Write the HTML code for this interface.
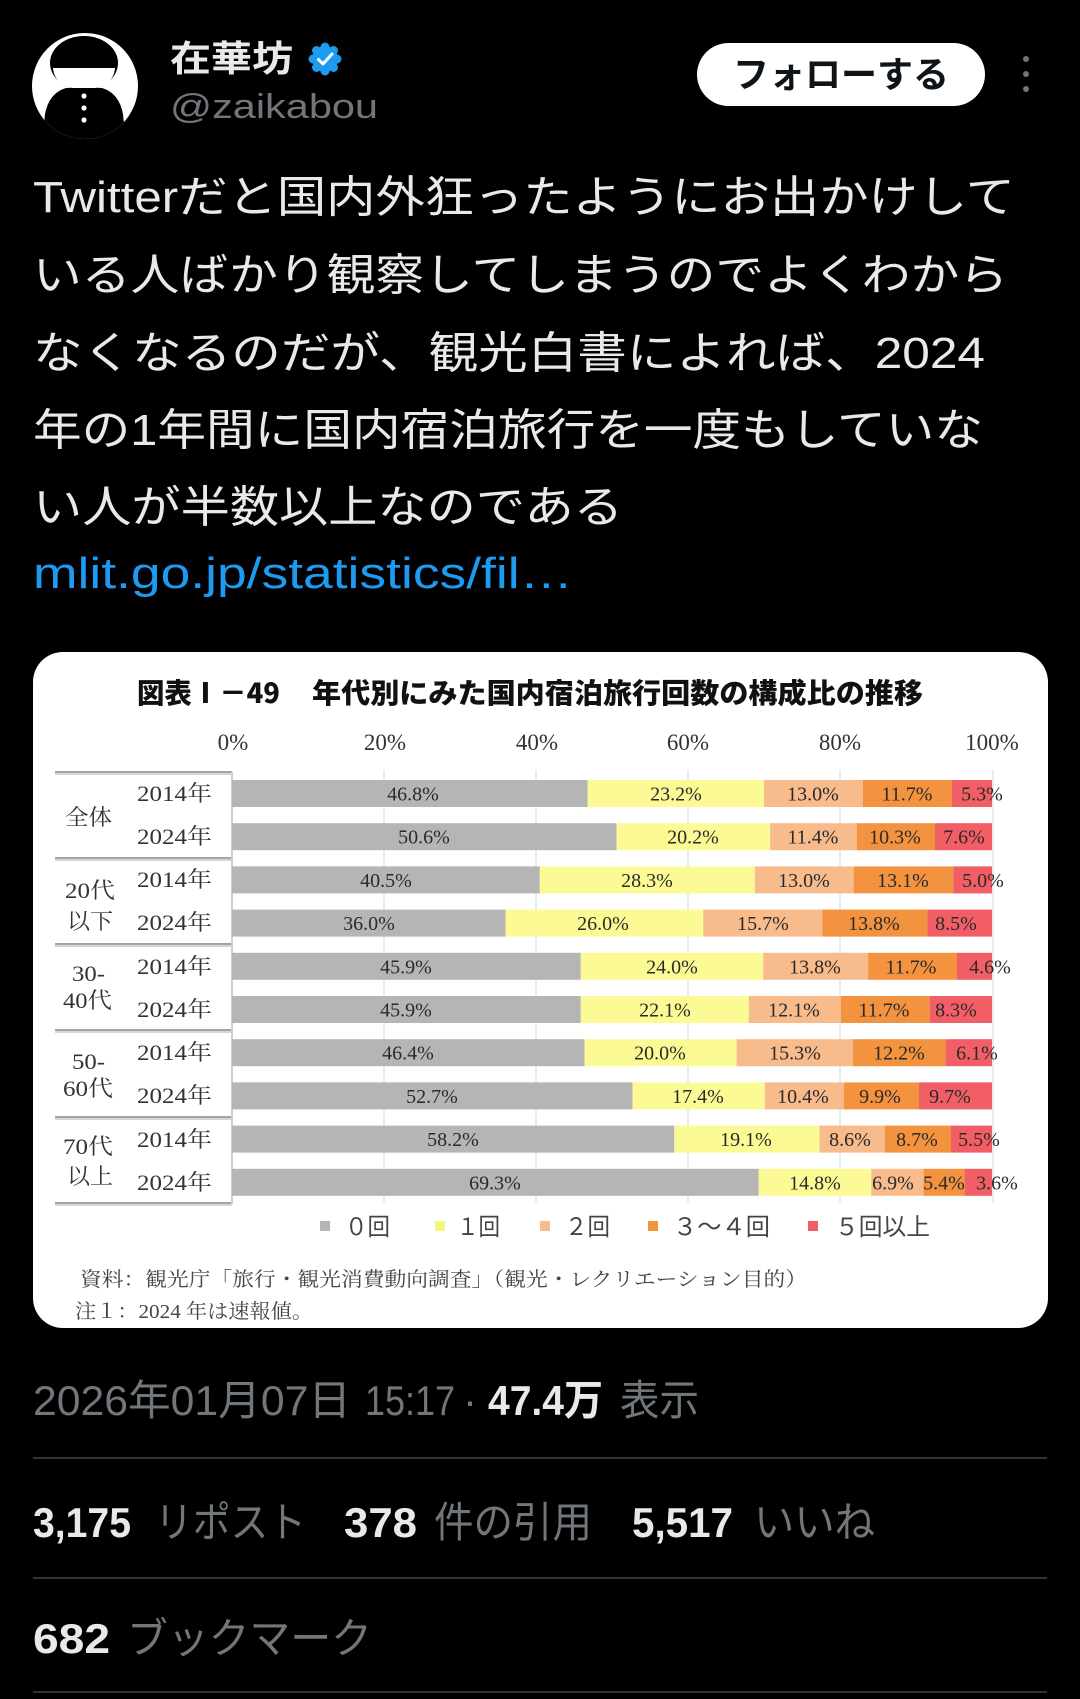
<!DOCTYPE html>
<html>
<head>
<meta charset="utf-8">
<style>
  html,body{margin:0;padding:0;background:#000;}
  svg{display:block;}
  .sans{font-family:"Liberation Sans","Noto Sans CJK JP",sans-serif;}
  .jp{font-family:"Noto Sans CJK JP","Liberation Sans",sans-serif;}
  .serif{font-family:"Liberation Serif","Noto Serif CJK SC",serif;}
</style>
</head>
<body>
<svg width="1080" height="1699" viewBox="0 0 1080 1699" xmlns="http://www.w3.org/2000/svg">
  <rect x="0" y="0" width="1080" height="1699" fill="#000"/>

  <!-- Avatar -->
  <defs>
    <clipPath id="av"><circle cx="85" cy="86" r="53"/></clipPath>
  </defs>
  <circle cx="85" cy="86" r="53" fill="#fff"/>
  <g clip-path="url(#av)">
    <ellipse cx="84" cy="63" rx="34" ry="27" fill="#000"/>
    <path d="M53,68 H115 Q113,89 84,89 Q55,89 53,68 Z" fill="#fff"/>
    <path d="M42,145 L45,114 Q49,93 66,88 H102 Q119,93 123,114 L126,145 Z" fill="#000"/>
    <circle cx="84" cy="96" r="2.6" fill="#fff"/>
    <circle cx="84" cy="108" r="2.6" fill="#fff"/>
    <circle cx="84" cy="120" r="2.6" fill="#fff"/>
  </g>

  <!-- Name -->
  <text class="sans" x="170" y="71" font-size="36" font-weight="700" fill="#e7e9ea" textLength="123" lengthAdjust="spacingAndGlyphs">在華坊</text>
  <!-- Badge -->
  <g fill="#1d9bf0">
    <circle cx="325" cy="59" r="13"/>
    <circle cx="337" cy="59" r="4.5"/><circle cx="313" cy="59" r="4.5"/>
    <circle cx="325" cy="47" r="4.5"/><circle cx="325" cy="71" r="4.5"/>
    <circle cx="333.5" cy="50.5" r="4.5"/><circle cx="316.5" cy="67.5" r="4.5"/>
    <circle cx="333.5" cy="67.5" r="4.5"/><circle cx="316.5" cy="50.5" r="4.5"/>
  </g>
  <path d="M318.5,59.5 L323,64 L332,54" fill="none" stroke="#fff" stroke-width="3" stroke-linecap="round" stroke-linejoin="round"/>
  <!-- Handle -->
  <text class="sans" x="170" y="118" font-size="34" fill="#71767b" textLength="208" lengthAdjust="spacingAndGlyphs">@zaikabou</text>

  <!-- Follow button -->
  <rect x="697" y="43" width="288" height="63" rx="31.5" fill="#fff"/>
  <text class="jp" x="733" y="87" font-size="36" font-weight="700" fill="#0f1419" textLength="216" lengthAdjust="spacingAndGlyphs">フォローする</text>
  <!-- More dots -->
  <circle cx="1026" cy="59" r="3" fill="#71767b"/>
  <circle cx="1026" cy="74" r="3" fill="#71767b"/>
  <circle cx="1026" cy="89" r="3" fill="#71767b"/>

  <!-- Tweet body -->
  <g class="sans" font-size="44" fill="#e7e9ea">
    <text x="33" y="212" textLength="982" lengthAdjust="spacingAndGlyphs">Twitterだと国内外狂ったようにお出かけして</text>
    <text x="33" y="290" textLength="975" lengthAdjust="spacingAndGlyphs">いる人ばかり観察してしまうのでよくわから</text>
    <text x="33" y="368" textLength="952" lengthAdjust="spacingAndGlyphs">なくなるのだが、観光白書によれば、2024</text>
    <text x="33" y="445" textLength="950" lengthAdjust="spacingAndGlyphs">年の1年間に国内宿泊旅行を一度もしていな</text>
    <text x="33" y="522" textLength="590" lengthAdjust="spacingAndGlyphs">い人が半数以上なのである</text>
    <text x="33" y="588" fill="#1d9bf0" textLength="540" lengthAdjust="spacingAndGlyphs">mlit.go.jp/statistics/fil…</text>
  </g>

  <!-- Chart card -->
  <rect x="33" y="652" width="1015" height="676" rx="30" fill="#fff"/>

  <!-- Title -->
  <g class="jp" font-size="28" font-weight="900" fill="#111">
    <text x="137" y="703" textLength="143" lengthAdjust="spacingAndGlyphs">図表Ⅰ－49</text>
    <text x="312" y="703" textLength="611" lengthAdjust="spacingAndGlyphs">年代別にみた国内宿泊旅行回数の構成比の推移</text>
  </g>

  <!-- Axis labels -->
  <g class="serif" font-size="23" fill="#333" text-anchor="middle">
    <text x="233" y="750">0%</text>
    <text x="385" y="750">20%</text>
    <text x="537" y="750">40%</text>
    <text x="688" y="750">60%</text>
    <text x="840" y="750">80%</text>
    <text x="992" y="750">100%</text>
  </g>

  <!-- Gridlines -->
  <g stroke="#e6edf2" stroke-width="2">
    <line x1="384" y1="770" x2="384" y2="1203"/>
    <line x1="536" y1="770" x2="536" y2="1203"/>
    <line x1="688" y1="770" x2="688" y2="1203"/>
    <line x1="840" y1="770" x2="840" y2="1203"/>
    <line x1="993" y1="770" x2="993" y2="1203"/>
  </g>

  <!-- Table lines -->
  <g stroke="#d6d6d6" stroke-width="2">
    <line x1="55" y1="774" x2="232" y2="774"/>
    <line x1="55" y1="860" x2="232" y2="860"/>
    <line x1="55" y1="946" x2="232" y2="946"/>
    <line x1="55" y1="1032" x2="232" y2="1032"/>
    <line x1="55" y1="1119" x2="232" y2="1119"/>
    <line x1="55" y1="1205" x2="232" y2="1205"/>
  </g>
  <g stroke="#a4a4a4" stroke-width="2">
    <line x1="55" y1="772" x2="232" y2="772"/>
    <line x1="55" y1="858" x2="232" y2="858"/>
    <line x1="55" y1="944" x2="232" y2="944"/>
    <line x1="55" y1="1030" x2="232" y2="1030"/>
    <line x1="55" y1="1117" x2="232" y2="1117"/>
    <line x1="55" y1="1203" x2="232" y2="1203"/>
  </g>
  <line x1="232" y1="772" x2="232" y2="1204" stroke="#cfcfcf" stroke-width="2"/>

  <!-- Group labels -->
  <g class="serif" font-size="22" fill="#333">
    <text x="65" y="825" textLength="47" lengthAdjust="spacingAndGlyphs">全体</text>
    <text x="65" y="898" textLength="50" lengthAdjust="spacingAndGlyphs">20代</text>
    <text x="67" y="929" textLength="46" lengthAdjust="spacingAndGlyphs">以下</text>
    <text x="72" y="981" textLength="33" lengthAdjust="spacingAndGlyphs">30-</text>
    <text x="63" y="1008" textLength="49" lengthAdjust="spacingAndGlyphs">40代</text>
    <text x="72" y="1069" textLength="33" lengthAdjust="spacingAndGlyphs">50-</text>
    <text x="63" y="1096" textLength="50" lengthAdjust="spacingAndGlyphs">60代</text>
    <text x="63" y="1154" textLength="50" lengthAdjust="spacingAndGlyphs">70代</text>
    <text x="67" y="1184" textLength="46" lengthAdjust="spacingAndGlyphs">以上</text>
  </g>

  <!-- Year labels -->
  <g class="serif" font-size="22" fill="#333">
    <text x="137" y="801" textLength="75" lengthAdjust="spacingAndGlyphs">2014年</text>
    <text x="137" y="844" textLength="75" lengthAdjust="spacingAndGlyphs">2024年</text>
    <text x="137" y="887" textLength="75" lengthAdjust="spacingAndGlyphs">2014年</text>
    <text x="137" y="930" textLength="75" lengthAdjust="spacingAndGlyphs">2024年</text>
    <text x="137" y="974" textLength="75" lengthAdjust="spacingAndGlyphs">2014年</text>
    <text x="137" y="1017" textLength="75" lengthAdjust="spacingAndGlyphs">2024年</text>
    <text x="137" y="1060" textLength="75" lengthAdjust="spacingAndGlyphs">2014年</text>
    <text x="137" y="1103" textLength="75" lengthAdjust="spacingAndGlyphs">2024年</text>
    <text x="137" y="1147" textLength="75" lengthAdjust="spacingAndGlyphs">2014年</text>
    <text x="137" y="1190" textLength="75" lengthAdjust="spacingAndGlyphs">2024年</text>
  </g>

  <!-- Bars -->
  <g>
    <rect x="232" y="780" width="355.7" height="27" fill="#b5b5b5"/>
    <rect x="587.7" y="780" width="176.3" height="27" fill="#fcfa94"/>
    <rect x="764" y="780" width="98.8" height="27" fill="#f8bb8c"/>
    <rect x="862.8" y="780" width="88.9" height="27" fill="#f3923f"/>
    <rect x="951.7" y="780" width="40.3" height="27" fill="#f25e66"/>
  </g>
  <g>
    <rect x="232" y="823.2" width="384.6" height="27" fill="#b5b5b5"/>
    <rect x="616.6" y="823.2" width="153.5" height="27" fill="#fcfa94"/>
    <rect x="770.1" y="823.2" width="86.6" height="27" fill="#f8bb8c"/>
    <rect x="856.7" y="823.2" width="78.3" height="27" fill="#f3923f"/>
    <rect x="935" y="823.2" width="57" height="27" fill="#f25e66"/>
  </g>
  <g>
    <rect x="232" y="866.4" width="307.8" height="27" fill="#b5b5b5"/>
    <rect x="539.8" y="866.4" width="215.1" height="27" fill="#fcfa94"/>
    <rect x="754.9" y="866.4" width="98.8" height="27" fill="#f8bb8c"/>
    <rect x="853.7" y="866.4" width="99.5" height="27" fill="#f3923f"/>
    <rect x="953.2" y="866.4" width="38.8" height="27" fill="#f25e66"/>
  </g>
  <g>
    <rect x="232" y="909.6" width="273.6" height="27" fill="#b5b5b5"/>
    <rect x="505.6" y="909.6" width="197.6" height="27" fill="#fcfa94"/>
    <rect x="703.2" y="909.6" width="119.3" height="27" fill="#f8bb8c"/>
    <rect x="822.5" y="909.6" width="104.9" height="27" fill="#f3923f"/>
    <rect x="927.4" y="909.6" width="64.6" height="27" fill="#f25e66"/>
  </g>
  <g>
    <rect x="232" y="952.8" width="348.8" height="27" fill="#b5b5b5"/>
    <rect x="580.8" y="952.8" width="182.4" height="27" fill="#fcfa94"/>
    <rect x="763.2" y="952.8" width="104.9" height="27" fill="#f8bb8c"/>
    <rect x="868.1" y="952.8" width="88.9" height="27" fill="#f3923f"/>
    <rect x="957" y="952.8" width="35" height="27" fill="#f25e66"/>
  </g>
  <g>
    <rect x="232" y="996" width="348.8" height="27" fill="#b5b5b5"/>
    <rect x="580.8" y="996" width="168" height="27" fill="#fcfa94"/>
    <rect x="748.8" y="996" width="92" height="27" fill="#f8bb8c"/>
    <rect x="840.8" y="996" width="88.9" height="27" fill="#f3923f"/>
    <rect x="929.7" y="996" width="62.3" height="27" fill="#f25e66"/>
  </g>
  <g>
    <rect x="232" y="1039.2" width="352.6" height="27" fill="#b5b5b5"/>
    <rect x="584.6" y="1039.2" width="152" height="27" fill="#fcfa94"/>
    <rect x="736.6" y="1039.2" width="116.3" height="27" fill="#f8bb8c"/>
    <rect x="852.9" y="1039.2" width="92.7" height="27" fill="#f3923f"/>
    <rect x="945.6" y="1039.2" width="46.4" height="27" fill="#f25e66"/>
  </g>
  <g>
    <rect x="232" y="1082.4" width="400.5" height="27" fill="#b5b5b5"/>
    <rect x="632.5" y="1082.4" width="132.3" height="27" fill="#fcfa94"/>
    <rect x="764.8" y="1082.4" width="79" height="27" fill="#f8bb8c"/>
    <rect x="843.8" y="1082.4" width="75.2" height="27" fill="#f3923f"/>
    <rect x="919" y="1082.4" width="73" height="27" fill="#f25e66"/>
  </g>
  <g>
    <rect x="232" y="1125.6" width="442.3" height="27" fill="#b5b5b5"/>
    <rect x="674.3" y="1125.6" width="145.2" height="27" fill="#fcfa94"/>
    <rect x="819.5" y="1125.6" width="65.3" height="27" fill="#f8bb8c"/>
    <rect x="884.8" y="1125.6" width="66.2" height="27" fill="#f3923f"/>
    <rect x="951" y="1125.6" width="41" height="27" fill="#f25e66"/>
  </g>
  <g>
    <rect x="232" y="1168.8" width="526.7" height="27" fill="#b5b5b5"/>
    <rect x="758.7" y="1168.8" width="112.5" height="27" fill="#fcfa94"/>
    <rect x="871.2" y="1168.8" width="52.4" height="27" fill="#f8bb8c"/>
    <rect x="923.6" y="1168.8" width="41" height="27" fill="#f3923f"/>
    <rect x="964.6" y="1168.8" width="27.4" height="27" fill="#f25e66"/>
  </g>

  <!-- Value labels -->
  <g class="serif" font-size="20" fill="#2a2a2a" text-anchor="middle">
    <text x="413" y="800.5">46.8%</text><text x="676" y="800.5">23.2%</text><text x="813" y="800.5">13.0%</text><text x="907" y="800.5">11.7%</text><text x="982" y="800.5">5.3%</text>
    <text x="424" y="843.7">50.6%</text><text x="693" y="843.7">20.2%</text><text x="813" y="843.7">11.4%</text><text x="895" y="843.7">10.3%</text><text x="964" y="843.7">7.6%</text>
    <text x="386" y="886.9">40.5%</text><text x="647" y="886.9">28.3%</text><text x="804" y="886.9">13.0%</text><text x="903" y="886.9">13.1%</text><text x="983" y="886.9">5.0%</text>
    <text x="369" y="930.1">36.0%</text><text x="603" y="930.1">26.0%</text><text x="763" y="930.1">15.7%</text><text x="874" y="930.1">13.8%</text><text x="956" y="930.1">8.5%</text>
    <text x="406" y="973.3">45.9%</text><text x="672" y="973.3">24.0%</text><text x="815" y="973.3">13.8%</text><text x="911" y="973.3">11.7%</text><text x="990" y="973.3">4.6%</text>
    <text x="406" y="1016.5">45.9%</text><text x="665" y="1016.5">22.1%</text><text x="794" y="1016.5">12.1%</text><text x="884" y="1016.5">11.7%</text><text x="956" y="1016.5">8.3%</text>
    <text x="408" y="1059.7">46.4%</text><text x="660" y="1059.7">20.0%</text><text x="795" y="1059.7">15.3%</text><text x="899" y="1059.7">12.2%</text><text x="977" y="1059.7">6.1%</text>
    <text x="432" y="1102.9">52.7%</text><text x="698" y="1102.9">17.4%</text><text x="803" y="1102.9">10.4%</text><text x="880" y="1102.9">9.9%</text><text x="950" y="1102.9">9.7%</text>
    <text x="453" y="1146.1">58.2%</text><text x="746" y="1146.1">19.1%</text><text x="850" y="1146.1">8.6%</text><text x="917" y="1146.1">8.7%</text><text x="979" y="1146.1">5.5%</text>
    <text x="495" y="1189.3">69.3%</text><text x="815" y="1189.3">14.8%</text><text x="893" y="1189.3">6.9%</text><text x="944" y="1189.3">5.4%</text><text x="997" y="1189.3">3.6%</text>
  </g>

  <!-- Legend -->
  <rect x="320" y="1221" width="10" height="10" fill="#b5b5b5"/>
  <rect x="435" y="1221" width="10" height="10" fill="#f4f77a"/>
  <rect x="540" y="1221" width="10" height="10" fill="#f8bb8c"/>
  <rect x="648" y="1221" width="10" height="10" fill="#f3923f"/>
  <rect x="808" y="1221" width="10" height="10" fill="#f25e66"/>
  <g class="jp" font-size="24" fill="#444">
    <text x="345" y="1235" textLength="45" lengthAdjust="spacingAndGlyphs">０回</text>
    <text x="457" y="1235" textLength="43" lengthAdjust="spacingAndGlyphs">１回</text>
    <text x="565" y="1235" textLength="45" lengthAdjust="spacingAndGlyphs">２回</text>
    <text x="673" y="1235" textLength="97" lengthAdjust="spacingAndGlyphs">３～４回</text>
    <text x="835" y="1235" textLength="95" lengthAdjust="spacingAndGlyphs">５回以上</text>
  </g>

  <!-- Footnotes -->
  <g class="serif" font-size="20" fill="#444">
    <text x="80" y="1286" textLength="727" lengthAdjust="spacingAndGlyphs">資料：観光庁「旅行・観光消費動向調査」（観光・レクリエーション目的）</text>
    <text x="75" y="1318" textLength="238" lengthAdjust="spacingAndGlyphs">注１：2024 年は速報値。</text>
  </g>

  <!-- Date line -->
  <g class="sans" font-size="42">
    <text x="33" y="1415" fill="#71767b" textLength="318" lengthAdjust="spacingAndGlyphs">2026年01月07日</text>
    <text x="365" y="1415" fill="#71767b" textLength="90" lengthAdjust="spacingAndGlyphs">15:17</text>
    <text x="463" y="1415" fill="#71767b">·</text>
    <text x="488" y="1415" fill="#e7e9ea" font-weight="700" textLength="115" lengthAdjust="spacingAndGlyphs">47.4万</text>
    <text x="620" y="1415" fill="#71767b" textLength="79" lengthAdjust="spacingAndGlyphs">表示</text>
  </g>
  <rect x="33" y="1457" width="1014" height="2" fill="#2f3336"/>

  <!-- Stats -->
  <g class="sans" font-size="42">
    <text x="33" y="1537" fill="#e7e9ea" font-weight="700" textLength="98" lengthAdjust="spacingAndGlyphs">3,175</text>
    <text x="155" y="1537" fill="#71767b" textLength="151" lengthAdjust="spacingAndGlyphs">リポスト</text>
    <text x="344" y="1537" fill="#e7e9ea" font-weight="700" textLength="73" lengthAdjust="spacingAndGlyphs">378</text>
    <text x="434" y="1537" fill="#71767b" textLength="158" lengthAdjust="spacingAndGlyphs">件の引用</text>
    <text x="632" y="1537" fill="#e7e9ea" font-weight="700" textLength="101" lengthAdjust="spacingAndGlyphs">5,517</text>
    <text x="754" y="1537" fill="#71767b" textLength="121" lengthAdjust="spacingAndGlyphs">いいね</text>
  </g>
  <rect x="33" y="1577" width="1014" height="2" fill="#2f3336"/>

  <!-- Bookmarks -->
  <g class="sans" font-size="42">
    <text x="33" y="1653" fill="#e7e9ea" font-weight="700" textLength="77" lengthAdjust="spacingAndGlyphs">682</text>
    <text x="127" y="1653" fill="#71767b" textLength="245" lengthAdjust="spacingAndGlyphs">ブックマーク</text>
  </g>
  <rect x="33" y="1691" width="1014" height="2" fill="#2f3336"/>
</svg>
</body>
</html>
